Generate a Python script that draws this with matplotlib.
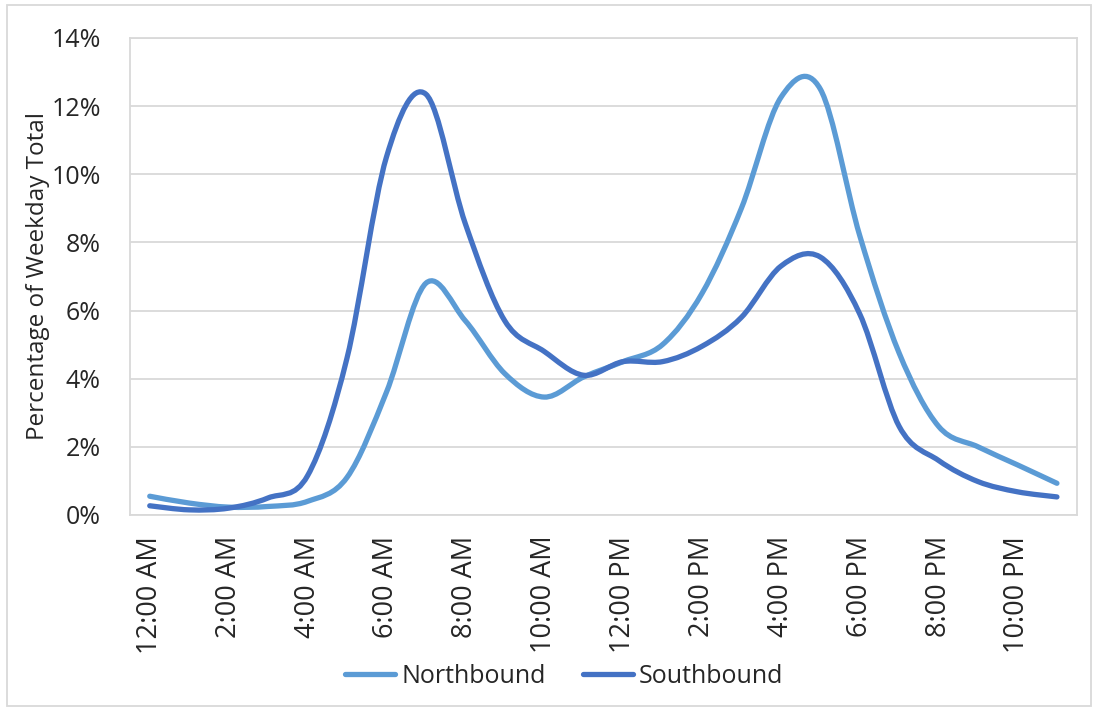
import matplotlib
matplotlib.use('Agg')
import matplotlib.pyplot as plt
import numpy as np
from matplotlib.path import Path
from matplotlib.patches import PathPatch, Rectangle
from matplotlib.lines import Line2D
from matplotlib.ticker import FuncFormatter

plt.rcParams['font.family'] = ['Open Sans', 'DejaVu Sans']

hours = list(range(24))
hour_labels = ['12:00 AM', '2:00 AM', '4:00 AM', '6:00 AM', '8:00 AM', '10:00 AM',
               '12:00 PM', '2:00 PM', '4:00 PM', '6:00 PM', '8:00 PM', '10:00 PM']
northbound = [0.55, 0.35, 0.23, 0.25, 0.4, 1.1, 3.6, 6.8, 5.7, 4.15, 3.46, 4.05,
              4.5, 5.0, 6.5, 9.0, 12.25, 12.5, 8.2, 4.75, 2.6, 2.0, 1.47, 0.93]
southbound = [0.27, 0.15, 0.2, 0.5, 1.15, 4.6, 10.5, 12.35, 8.55, 5.7, 4.8, 4.1,
              4.5, 4.5, 4.95, 5.8, 7.3, 7.57, 5.9, 2.6, 1.6, 0.98, 0.68, 0.53]

NB_COLOR = '#5b9bd5'
SB_COLOR = '#4472c4'
TEXT = '#262626'


def smooth_path(xs, ys):
  # Catmull-Rom style bezier through the points, like a spreadsheet "smoothed line"
  pts = np.column_stack([np.asarray(xs, float), np.asarray(ys, float)])
  n = len(pts)
  verts = [pts[0]]
  codes = [Path.MOVETO]
  for i in range(n - 1):
    p0 = pts[i - 1] if i > 0 else pts[i]
    p1 = pts[i]
    p2 = pts[i + 1]
    p3 = pts[i + 2] if i + 2 < n else pts[i + 1]
    verts += [p1 + (p2 - p0) / 6.0, p2 - (p3 - p1) / 6.0, p2]
    codes += [Path.CURVE4] * 3
  return Path(verts, codes)


fig = plt.figure(figsize=(11.02, 7.11), dpi=100)
ax = fig.add_axes([0.118, 0.2757, 0.859, 0.671])

for vals, col in ((northbound, NB_COLOR), (southbound, SB_COLOR)):
  ax.add_patch(PathPatch(smooth_path(hours, vals), fill=False, edgecolor=col,
                         lw=3.8, capstyle='round', joinstyle='round', zorder=3))

ax.set_xlim(-0.5, 23.5)
ax.set_ylim(0, 14)
ax.set_yticks(np.arange(0, 15, 2))
ax.yaxis.set_major_formatter(FuncFormatter(lambda v, _: f'{v:.0f}%'))
ax.set_xticks(hours[::2])
ax.set_xticklabels(hour_labels, rotation=90, fontsize=19.5, color=TEXT)
ax.tick_params(axis='y', labelsize=18, colors=TEXT, length=0, pad=21)
ax.tick_params(axis='x', length=0, pad=15)
ax.grid(axis='y', color='#d9d9d9', lw=1.3)
ax.set_axisbelow(True)
for s in ax.spines.values():
  s.set_color('#d9d9d9')
  s.set_linewidth(1.3)
ax.set_ylabel('Percentage of Weekday Total', fontsize=17.5, color=TEXT, labelpad=1)

handles = [Line2D([], [], color=NB_COLOR, lw=3.8, solid_capstyle='round'),
           Line2D([], [], color=SB_COLOR, lw=3.8, solid_capstyle='round')]
fig.legend(handles, ['Northbound', 'Southbound'], loc='center',
           bbox_to_anchor=(0.512, 0.049), ncol=2, frameon=False, fontsize=18,
           handlelength=2.0, handletextpad=0.25, columnspacing=1.5, labelcolor=TEXT)

# thin border round the whole chart
fig.add_artist(Rectangle((0.006, 0.007), 0.984, 0.986, transform=fig.transFigure,
                         fill=False, edgecolor='#d9d9d9', lw=1.3))

fig.savefig('out.png', dpi=100)
